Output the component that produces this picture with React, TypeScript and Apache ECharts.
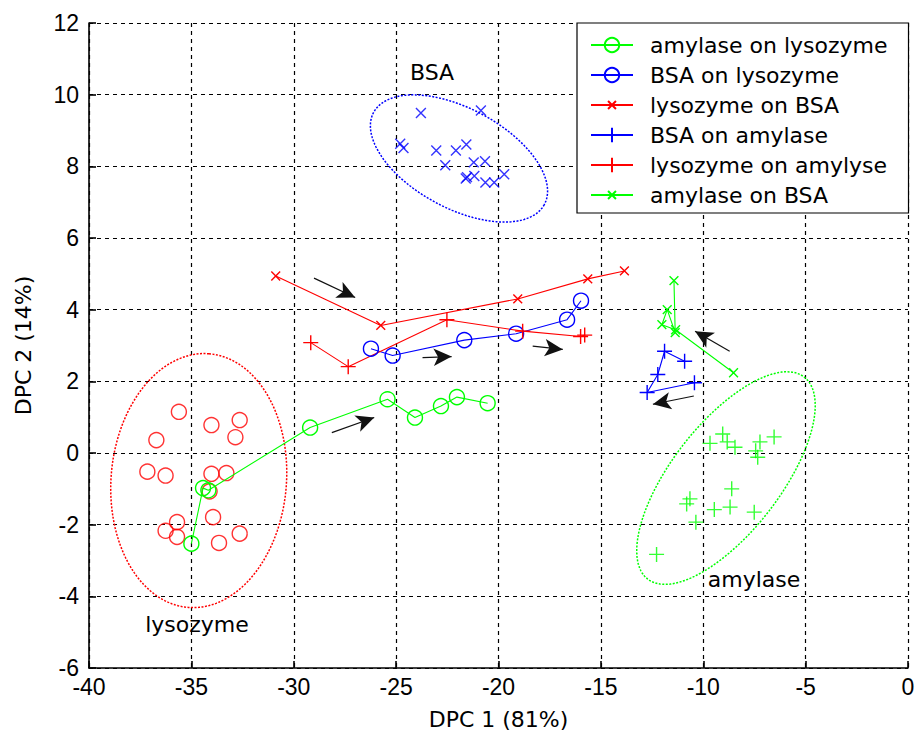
import React, { useEffect, useRef } from "react";
import * as echarts from "echarts";

// ---- Data (DPC 1, DPC 2) ----
const seriesNames = [
  "amylase on lysozyme",
  "BSA on lysozyme",
  "lysozyme on BSA",
  "BSA on amylase",
  "lysozyme on amylyse",
  "amylase on BSA",
];

const amylaseOnLysozyme = [
  [-35.0, -2.53], [-34.43, -0.98], [-34.17, -1.04], [-29.2, 0.71], [-25.42, 1.5],
  [-24.08, 0.99], [-22.81, 1.31], [-22.03, 1.56], [-20.53, 1.39],
];
const bsaOnLysozyme = [
  [-26.23, 2.91], [-25.17, 2.72], [-21.67, 3.15], [-19.14, 3.33], [-16.65, 3.72], [-15.97, 4.25],
];
const lysozymeOnBsa = [
  [-30.88, 4.94], [-25.75, 3.56], [-19.06, 4.3], [-15.64, 4.86], [-13.85, 5.08],
];
const bsaOnAmylase = [
  [-10.43, 1.96], [-12.74, 1.69], [-12.22, 2.19], [-11.89, 2.84], [-10.91, 2.56],
];
const lysozymeOnAmylyse = [
  [-29.17, 3.08], [-27.34, 2.41], [-22.52, 3.72], [-18.82, 3.4], [-15.99, 3.25], [-15.79, 3.29],
];
const amylaseOnBsa = [
  [-8.52, 2.24], [-11.35, 3.44], [-12.02, 3.58], [-11.76, 4.0], [-11.37, 3.36], [-11.43, 4.81],
];

// reference clusters
const bsaCluster = [
  [-23.79, 9.49], [-20.86, 9.56], [-24.8, 8.63], [-24.64, 8.51], [-23.04, 8.44], [-22.08, 8.44],
  [-21.57, 8.61], [-22.6, 8.03], [-21.21, 8.11], [-20.66, 8.14], [-21.6, 7.66], [-21.54, 7.7],
  [-21.18, 7.73], [-20.64, 7.55], [-20.21, 7.55], [-19.72, 7.78],
];
const lysozymeCluster = [
  [-35.61, 1.15], [-34.02, 0.78], [-32.64, 0.92], [-32.85, 0.44], [-36.71, 0.36], [-37.15, -0.52],
  [-36.26, -0.63], [-34.02, -0.58], [-33.29, -0.56], [-34.11, -1.07], [-33.94, -1.79], [-35.7, -1.93],
  [-36.26, -2.17], [-35.7, -2.34], [-33.65, -2.51], [-32.64, -2.25],
];
const amylaseCluster = [
  [-9.05, 0.53], [-9.67, 0.27], [-8.83, 0.31], [-8.45, 0.16], [-6.54, 0.45], [-7.23, 0.31],
  [-7.44, 0.06], [-7.34, -0.12], [-8.61, -1.0], [-10.65, -1.28], [-10.81, -1.42], [-9.46, -1.58],
  [-8.69, -1.51], [-7.51, -1.65], [-10.36, -1.93], [-12.28, -2.83],
];

// confidence ellipses: centre, semi-axis vectors (data units)
const bsaEllipse = { center: [-21.93, 8.22], u: [4.166, -1.289], v: [-1.17, -1.22] };
const lysozymeEllipse = { center: [-34.64, -0.77], u: [0.5, 3.54], v: [4.27, -0.19] };
const amylaseEllipse = { center: [-8.89, -0.7], u: [3.82, 2.82], v: [2.1, -0.92] };

// arrows: [from, to]
const arrows = [
  [[-29.01, 4.88], [-27.0, 4.34]],
  [[-23.71, 2.66], [-22.29, 2.69]],
  [[-18.33, 2.98], [-16.86, 2.89]],
  [[-28.14, 0.57], [-26.07, 0.99]],
  [[-8.71, 2.84], [-10.4, 3.4]],
  [[-10.46, 1.59], [-12.46, 1.36]],
];

const xTicks = { min: -40, max: 0, interval: 5 };
const yTicks = { min: -6, max: 12, interval: 2 };

const GREEN = "#00ff00";
const BLUE = "#0000ff";
const RED = "#ff0000";
const PLUS = "path://M0,5L10,5M5,0L5,10";
// cross drawn inside a padded 10x10 box so the legend glyph stays small
const CROSS = "path://M0,0M10,10M2.25,2.25L7.75,7.75M7.75,2.25L2.25,7.75";
const FONT = "DejaVu Sans";

function ellipsePoints(e: { center: number[]; u: number[]; v: number[] }) {
  const pts: number[][] = [];
  const n = 160;
  for (let i = 0; i <= n; i++) {
    const t = (i / n) * Math.PI * 2;
    pts.push([
      e.center[0] + e.u[0] * Math.cos(t) + e.v[0] * Math.sin(t),
      e.center[1] + e.u[1] * Math.cos(t) + e.v[1] * Math.sin(t),
    ]);
  }
  return pts;
}

function lineSeries(name: string, data: number[][], color: string, symbol: string, size: number) {
  return {
    name,
    type: "line",
    data,
    symbol,
    symbolSize: size,
    showAllSymbol: true,
    lineStyle: { color, width: 1.1 },
    itemStyle: { color: "none", borderColor: color, borderWidth: 1.4 },
    z: 3,
  };
}

function clusterSeries(data: number[][], color: string, symbol: string, size: number) {
  return {
    type: "scatter",
    data,
    symbol,
    symbolSize: size,
    itemStyle: { color: "none", borderColor: color, borderWidth: 1.4 },
    z: 2,
  };
}

function ellipseSeries(e: any, color: string) {
  return {
    type: "line",
    data: ellipsePoints(e),
    symbol: "none",
    lineStyle: { color, width: 1.5, type: [2, 1.5] },
    z: 2,
  };
}

export default function App() {
  const ref = useRef<HTMLDivElement>(null);
  useEffect(() => {
    if (!ref.current) return;
    const chart = echarts.init(ref.current, null, { renderer: "svg" });
    const axisCommon = {
      axisLine: { onZero: false, lineStyle: { color: "#000", width: 1.6 } },
      axisTick: { inside: true, length: 7, lineStyle: { color: "#000", width: 1.6 } },
      splitLine: { show: true, lineStyle: { color: "#000", width: 1.2, type: [4, 4] } },
      nameTextStyle: { fontFamily: FONT, fontSize: 22, color: "#000" },
      nameLocation: "middle",
    };
    chart.setOption({
      animation: false,
      backgroundColor: "#ffffff",
      grid: { left: 89, top: 23, right: 10, bottom: 65 },
      xAxis: {
        type: "value",
        ...axisCommon,
        min: xTicks.min,
        max: xTicks.max,
        interval: xTicks.interval,
        name: "DPC 1 (81%)",
        nameGap: 40,
        axisLabel: { color: "#000", fontFamily: "Liberation Sans", fontSize: 23, margin: 7 },
      },
      yAxis: {
        type: "value",
        ...axisCommon,
        min: yTicks.min,
        max: yTicks.max,
        interval: yTicks.interval,
        name: "DPC 2 (14%)",
        nameGap: 55,
        nameRotate: 90,
        axisLabel: { color: "#000", fontFamily: "Liberation Sans", fontSize: 23, margin: 10 },
      },
      legend: {
        data: seriesNames,
        orient: "vertical",
        left: 577,
        top: 23,
        padding: [11, 21, 7, 13],
        itemWidth: 42,
        itemHeight: 18,
        itemGap: 8,
        backgroundColor: "#fff",
        borderColor: "#000",
        borderWidth: 1.2,
        textStyle: { fontFamily: FONT, fontSize: 22, lineHeight: 22, color: "#000", padding: [0, 0, 0, 12] },
        z: 10,
      },
      graphic: [
        { type: "text", x: 432, y: 72, z: 5, style: { text: "BSA", font: `22px "${FONT}"`, fill: "#000", align: "center", verticalAlign: "middle" } },
        { type: "text", x: 197, y: 624, z: 5, style: { text: "lysozyme", font: `22px "${FONT}"`, fill: "#000", align: "center", verticalAlign: "middle" } },
        { type: "text", x: 754, y: 579, z: 5, style: { text: "amylase", font: `22px "${FONT}"`, fill: "#000", align: "center", verticalAlign: "middle" } },
      ],
      series: [
        ellipseSeries(bsaEllipse, BLUE),
        ellipseSeries(lysozymeEllipse, RED),
        ellipseSeries(amylaseEllipse, GREEN),
        clusterSeries(bsaCluster, BLUE, CROSS, 18),
        clusterSeries(lysozymeCluster, RED, "circle", 15),
        clusterSeries(amylaseCluster, GREEN, PLUS, 15),
        lineSeries(seriesNames[0], amylaseOnLysozyme, GREEN, "circle", 15),
        lineSeries(seriesNames[1], bsaOnLysozyme, BLUE, "circle", 15),
        lineSeries(seriesNames[2], lysozymeOnBsa, RED, CROSS, 16),
        lineSeries(seriesNames[3], bsaOnAmylase, BLUE, PLUS, 15),
        lineSeries(seriesNames[4], lysozymeOnAmylyse, RED, PLUS, 15),
        lineSeries(seriesNames[5], amylaseOnBsa, GREEN, CROSS, 16),
        {
          type: "line",
          data: [],
          z: 4,
          markLine: {
            silent: true,
            symbol: ["none", "arrow"],
            symbolSize: [13, 18],
            label: { show: false },
            lineStyle: { color: "#111", width: 1.2, type: "solid" },
            data: arrows.map((a) => [{ coord: a[0] }, { coord: a[1] }]),
          },
        },
      ],
    });
    return () => chart.dispose();
  }, []);
  return (
    <div
      ref={ref}
      style={{ position: "absolute", left: 0, top: 0, width: 918, height: 735, background: "#fff" }}
    />
  );
}
